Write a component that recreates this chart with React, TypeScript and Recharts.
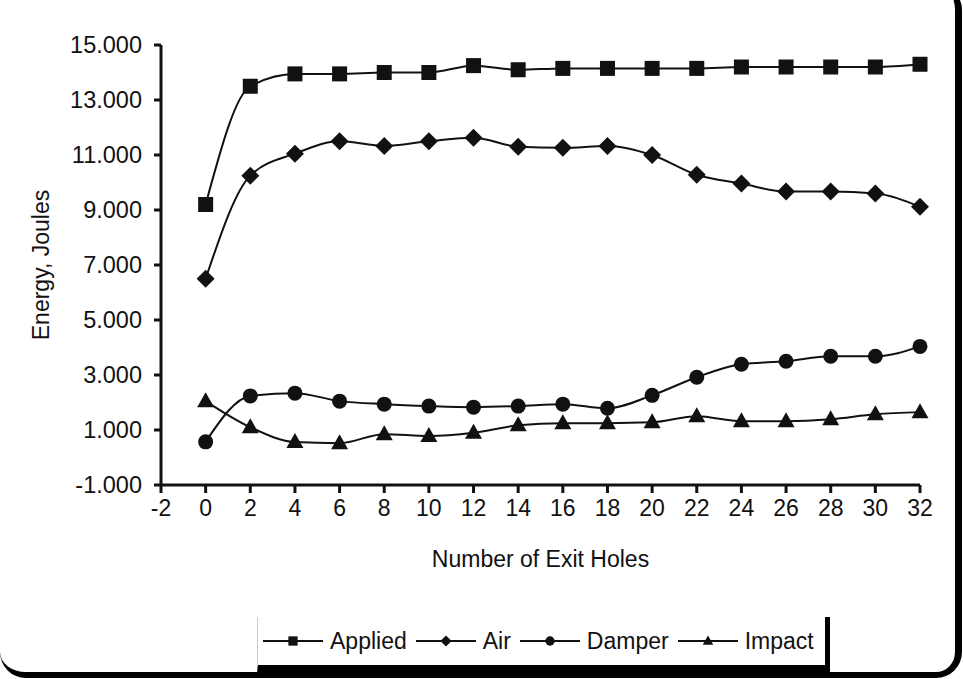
import React from "react";
import { LineChart, Line, XAxis, YAxis, Legend } from "recharts";

const holes = [0, 2, 4, 6, 8, 10, 12, 14, 16, 18, 20, 22, 24, 26, 28, 30, 32];
const applied = [9.2, 13.5, 13.95, 13.95, 14.0, 14.0, 14.25, 14.1, 14.15, 14.15, 14.15, 14.15, 14.2, 14.2, 14.2, 14.2, 14.3];
const air = [6.5, 10.25, 11.05, 11.5, 11.33, 11.5, 11.63, 11.3, 11.26, 11.33, 11.0, 10.28, 9.96, 9.67, 9.67, 9.6, 9.12];
const damper = [0.57, 2.24, 2.34, 2.05, 1.94, 1.87, 1.83, 1.87, 1.94, 1.79, 2.26, 2.92, 3.39, 3.5, 3.68, 3.68, 4.04];
const impact = [2.05, 1.1, 0.56, 0.52, 0.85, 0.78, 0.9, 1.17, 1.25, 1.25, 1.28, 1.5, 1.32, 1.32, 1.39, 1.57, 1.65];

const xTicks = [-2, 0, 2, 4, 6, 8, 10, 12, 14, 16, 18, 20, 22, 24, 26, 28, 30, 32];
const yTicks = [-1, 1, 3, 5, 7, 9, 11, 13, 15];

const data = holes.map((x, i) => ({
  x,
  Applied: applied[i],
  Air: air[i],
  Damper: damper[i],
  Impact: impact[i],
}));

const INK = "#111";
const FONT = "'Liberation Sans', Arial, sans-serif";
const FS = 23;

type Shape = "square" | "diamond" | "circle" | "triangle";

function Marker({ shape, cx, cy, s = 1 }: { shape: Shape; cx: number; cy: number; s?: number }) {
  if (shape === "square") return <rect x={cx - 7.5 * s} y={cy - 7.5 * s} width={15 * s} height={15 * s} fill={INK} />;
  if (shape === "diamond")
    return <polygon points={`${cx},${cy - 9 * s} ${cx + 9 * s},${cy} ${cx},${cy + 9 * s} ${cx - 9 * s},${cy}`} fill={INK} />;
  if (shape === "circle") return <circle cx={cx} cy={cy} r={7.5 * s} fill={INK} />;
  return <polygon points={`${cx},${cy - 9 * s} ${cx + 8.5 * s},${cy + 6 * s} ${cx - 8.5 * s},${cy + 6 * s}`} fill={INK} />;
}

const makeDot = (shape: Shape) => (props: any) => {
  const { cx, cy, index } = props;
  if (cx == null || cy == null) return <g key={index} />;
  return (
    <g key={index}>
      <Marker shape={shape} cx={cx} cy={cy} />
    </g>
  );
};

const series: { key: string; shape: Shape }[] = [
  { key: "Applied", shape: "square" },
  { key: "Air", shape: "diamond" },
  { key: "Damper", shape: "circle" },
  { key: "Impact", shape: "triangle" },
];

function LegendBox() {
  return (
    <div
      style={{
        boxSizing: "border-box",
        width: "100%",
        height: "100%",
        borderLeft: "1px solid #ccc",
        borderRight: "5px solid #000",
        borderBottom: "8px solid #000",
        display: "flex",
        alignItems: "center",
        paddingLeft: 5,
        fontFamily: FONT,
        fontSize: FS,
        color: INK,
      }}
    >
      {series.map((s) => (
        <div key={s.key} style={{ display: "flex", alignItems: "center", marginRight: 9 }}>
          <svg width={60} height={20} style={{ marginRight: 7 }}>
            <line x1={0} y1={10} x2={60} y2={10} stroke={INK} strokeWidth={2} />
            <Marker shape={s.shape} cx={30} cy={10} s={0.62} />
          </svg>
          <span>{s.key}</span>
        </div>
      ))}
    </div>
  );
}

export default function App() {
  return (
    <div style={{ position: "absolute", left: 0, top: 0, width: 963, height: 679, background: "#fff", overflow: "hidden" }}>
      <div
        style={{
          position: "absolute",
          left: 0,
          top: -16,
          width: 962,
          height: 694,
          boxSizing: "border-box",
          borderRight: "7px solid #000",
          borderBottom: "6px solid #000",
          borderRadius: 26,
        }}
      />
      <LineChart
        width={963}
        height={679}
        data={data}
        margin={{ top: 45, right: 43, bottom: 154, left: 20 }}
        style={{ fontFamily: FONT }}
      >
        <XAxis
          type="number"
          dataKey="x"
          domain={[-2, 32]}
          ticks={xTicks}
          interval={0}
          height={40}
          axisLine={{ stroke: INK, strokeWidth: 3 }}
          tickLine={{ stroke: INK, strokeWidth: 3 }}
          tickSize={8}
          tickMargin={7}
          tick={{ fill: INK, fontSize: FS }}
          label={{ value: "Number of Exit Holes", position: "bottom", offset: 26, fill: INK, fontSize: FS }}
        />
        <YAxis
          type="number"
          domain={[-1, 15]}
          ticks={yTicks}
          interval={0}
          width={141}
          axisLine={{ stroke: INK, strokeWidth: 3 }}
          tickLine={{ stroke: INK, strokeWidth: 3 }}
          tickSize={7}
          tickMargin={12}
          tickFormatter={(v: number) => v.toFixed(3)}
          tick={{ fill: INK, fontSize: 23.5 }}
          label={{
            value: "Energy, Joules",
            angle: -90,
            position: "insideLeft",
            offset: 21,
            fill: INK,
            fontSize: FS,
            style: { textAnchor: "middle" },
          }}
        />
        <Legend
          layout="horizontal"
          align="center"
          verticalAlign="middle"
          wrapperStyle={{ left: 257, top: 617, width: 573, height: 56 }}
          content={() => <LegendBox />}
        />
        {series.map((s) => (
          <Line
            key={s.key}
            type="monotone"
            dataKey={s.key}
            stroke={INK}
            strokeWidth={2}
            dot={makeDot(s.shape)}
            activeDot={false}
            isAnimationActive={false}
          />
        ))}
      </LineChart>
    </div>
  );
}
